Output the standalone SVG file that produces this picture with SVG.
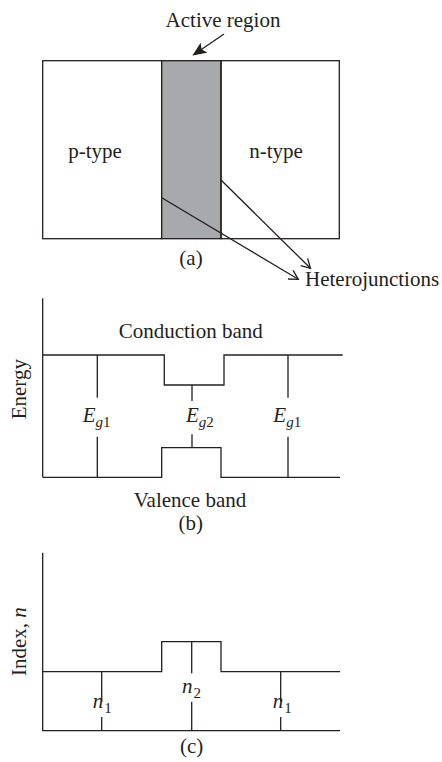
<svg xmlns="http://www.w3.org/2000/svg" width="442" height="762" viewBox="0 0 442 762">
<defs>
<style>
.ln{fill:none;stroke:#231f20;stroke-width:1.3}
.t{font-family:"Liberation Serif","Times New Roman",serif;font-size:21px;fill:#231f20}
.i{font-style:italic}
.s{font-size:15px}
</style>
<marker id="filled" markerWidth="14" markerHeight="12" refX="13" refY="6" orient="auto" markerUnits="userSpaceOnUse">
<path d="M0,0 L14,6 L0,12 L3,6 Z" fill="#231f20"/>
</marker>
<marker id="open" markerWidth="12" markerHeight="12" refX="10" refY="6" orient="auto" markerUnits="userSpaceOnUse">
<path d="M1,1 L10,6 L1,11" fill="none" stroke="#231f20" stroke-width="1.3"/>
</marker>
</defs>
<rect width="442" height="762" fill="#ffffff"/>

<g id="panel-a">
<g id="p-type">
<rect class="ln" x="42.7" y="60.7" width="119" height="178"/>
<text class="t" x="95" y="158" text-anchor="middle">p-type</text>
</g>
<g id="active">
<rect x="161.7" y="60.7" width="59.3" height="178" fill="#a7a9ac" stroke="#231f20" stroke-width="1.3"/>
</g>
<g id="n-type">
<rect class="ln" x="221" y="60.7" width="118.3" height="178"/>
<text class="t" x="276" y="158" text-anchor="middle">n-type</text>
</g>
<g id="active-label">
<text class="t" x="223" y="27" text-anchor="middle">Active region</text>
</g>
<g id="hetero-label">
<text class="t" x="305" y="286">Heterojunctions</text>
</g>
<text class="t" x="191" y="265" text-anchor="middle">(a)</text>
</g>

<g id="connectors">
<line class="ln" x1="224" y1="34" x2="193.3" y2="55" marker-end="url(#filled)"/>
<line class="ln" x1="161.7" y1="197.7" x2="298.3" y2="279.3" marker-end="url(#open)"/>
<line class="ln" x1="221" y1="180" x2="310.5" y2="268.3" marker-end="url(#open)"/>
</g>

<g id="panel-b">
<path class="ln" d="M42.7,298.3 V477.3"/>
<path class="ln" d="M42.7,355 H164.3 V385 H224 V355 H342.7"/>
<path class="ln" d="M42.7,477.3 H161.7 V447.7 H221 V477.3 H340"/>
<path class="ln" d="M97.3,355 V397.7 M97.3,436.7 V477.3"/>
<path class="ln" d="M192,385 V401 M192,434.3 V447.7"/>
<path class="ln" d="M288,355 V397.7 M288,436.7 V477.3"/>
<text class="t" x="190.7" y="338.3" text-anchor="middle">Conduction band</text>
<text class="t" x="190" y="506.7" text-anchor="middle">Valence band</text>
<text class="t" x="190.7" y="530" text-anchor="middle">(b)</text>
<text class="t" transform="translate(25.5,389.2) rotate(-90)" text-anchor="middle">Energy</text>
<text class="t" x="82.7" y="421.7"><tspan class="i">E</tspan><tspan class="s i" dy="5">g</tspan><tspan class="s">1</tspan></text>
<text class="t" x="186" y="421.7"><tspan class="i">E</tspan><tspan class="s i" dy="5">g</tspan><tspan class="s">2</tspan></text>
<text class="t" x="273.3" y="421.7"><tspan class="i">E</tspan><tspan class="s i" dy="5">g</tspan><tspan class="s">1</tspan></text>
</g>

<g id="panel-c">
<path class="ln" d="M42.7,552.7 V730.7 H340"/>
<path class="ln" d="M42.7,671.7 H161.7 V641.7 H221 V671.7 H340"/>
<path class="ln" d="M101.7,671.7 V701.7 M101.7,717 V730.7"/>
<path class="ln" d="M191.7,641.7 V673.3 M191.7,701.7 V730.7"/>
<path class="ln" d="M280.7,671.7 V701.7 M280.7,717 V730.7"/>
<text class="t" transform="translate(25.5,641.7) rotate(-90)" text-anchor="middle">Index, <tspan class="i">n</tspan></text>
<text class="t" x="92.7" y="708.3"><tspan class="i">n</tspan><tspan class="s" dx="1" dy="5">1</tspan></text>
<text class="t" x="182" y="693.3"><tspan class="i">n</tspan><tspan class="s" dx="1" dy="5">2</tspan></text>
<text class="t" x="272.7" y="708.3"><tspan class="i">n</tspan><tspan class="s" dx="1" dy="5">1</tspan></text>
<text class="t" x="191.7" y="753.3" text-anchor="middle">(c)</text>
</g>
</svg>
